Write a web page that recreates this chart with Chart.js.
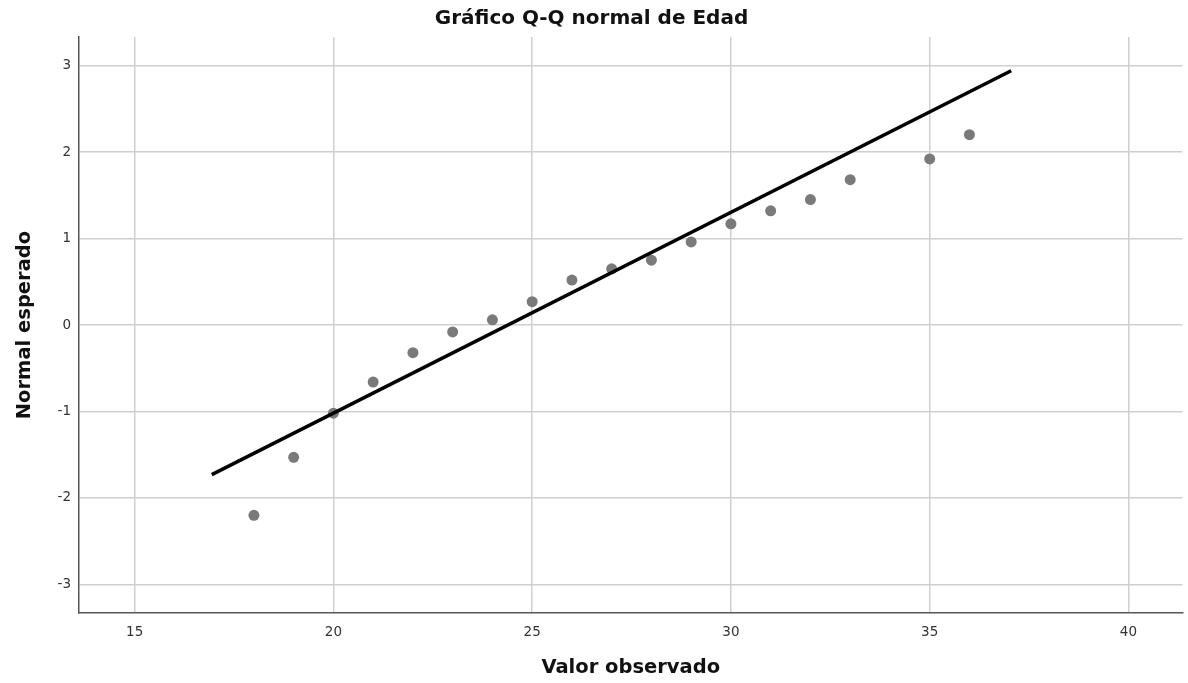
<!DOCTYPE html>
<html>
<head>
<meta charset="utf-8">
<script src="https://cdn.jsdelivr.net/npm/chart.js@4"></script>
<style>
  html, body { margin: 0; padding: 0; background: #fff; }
  #wrap { width: 1188px; height: 683px; }
</style>
</head>
<body>
<div id="wrap"><canvas id="qq"></canvas></div>
<script>
const edades = [18, 19, 20, 21, 22, 23, 24, 25, 26, 27, 28, 29, 30, 31, 32, 33, 35, 36];
const esperado = [-2.20, -1.53, -1.02, -0.66, -0.32, -0.08, 0.06, 0.27, 0.52, 0.65, 0.75, 0.96, 1.17, 1.32, 1.45, 1.68, 1.92, 2.20];
// reference line end points
const lineaX = [16.94, 37.05];
const lineaY = [-1.73, 2.94];
const xTicks = [15, 20, 25, 30, 35, 40];
const yTicks = [-3, -2, -1, 0, 1, 2, 3];

const puntos = edades.map((e, i) => ({ x: e, y: esperado[i] }));
const linea = lineaX.map((x, i) => ({ x: x, y: lineaY[i] }));

const gridColor = "#cfcfcf";
const axisColor = "#555";
const tickFont = { family: "DejaVu Sans", size: 13.5 };

new Chart(document.getElementById("qq"), {
  type: "scatter",
  data: {
    datasets: [
      {
        type: "line",
        data: linea,
        borderColor: "#000",
        borderWidth: 3.5,
        pointRadius: 0,
        fill: false,
        order: 0
      },
      {
        data: puntos,
        backgroundColor: "#7a7a7a",
        borderColor: "#7a7a7a",
        borderWidth: 0,
        pointRadius: 5.5,
        order: 1
      }
    ]
  },
  options: {
    responsive: true,
    maintainAspectRatio: false,
    animation: false,
    layout: { padding: { left: 0, right: 5, top: 0, bottom: 0 } },
    plugins: {
      legend: { display: false },
      tooltip: { enabled: false },
      title: {
        display: true,
        text: "Gráfico Q-Q normal de Edad",
        color: "#111",
        font: { family: "DejaVu Sans", size: 20, weight: "bold", lineHeight: 1.2 },
        padding: { top: 7, bottom: 6 }
      }
    },
    scales: {
      x: {
        type: "linear",
        min: 13.6,
        max: 41.36,
        afterBuildTicks: s => { s.ticks = xTicks.map(v => ({ value: v })); },
        afterFit: s => { s.height = 70; },
        grid: { color: gridColor, lineWidth: 1.5, drawTicks: false },
        border: { display: true, color: axisColor, width: 1.5 },
        ticks: { color: "#333", padding: 11, font: tickFont },
        title: {
          display: true,
          text: "Valor observado",
          color: "#111",
          font: { family: "DejaVu Sans", size: 19.5, weight: "bold", lineHeight: 1.2 },
          padding: { top: 0, bottom: 3.3 }
        }
      },
      y: {
        type: "linear",
        min: -3.33,
        max: 3.33,
        afterBuildTicks: s => { s.ticks = yTicks.map(v => ({ value: v })); },
        afterFit: s => { s.width = 79; },
        grid: { color: gridColor, lineWidth: 1.5, drawTicks: false },
        border: { display: true, color: axisColor, width: 1.5 },
        ticks: { color: "#333", padding: 8, font: tickFont },
        title: {
          display: true,
          text: "Normal esperado",
          color: "#111",
          font: { family: "DejaVu Sans", size: 19.5, weight: "bold", lineHeight: 1.2 },
          padding: { top: 13.3, bottom: 0 }
        }
      }
    }
  }
});
</script>
</body>
</html>
